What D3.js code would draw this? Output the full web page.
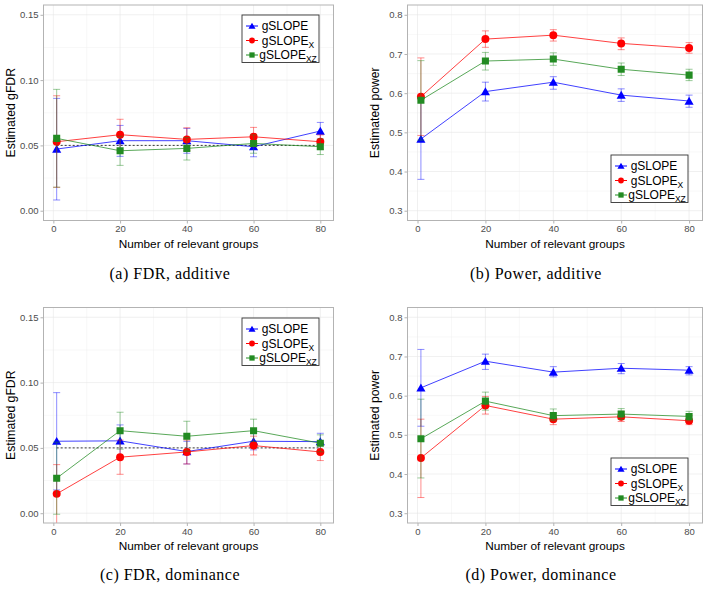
<!DOCTYPE html>
<html>
<head>
<meta charset="utf-8">
<script src="https://cdn.jsdelivr.net/npm/d3@7"></script>
<style>
  body { margin: 0; background: #fff; }
  svg { display: block; }
</style>
</head>
<body>
<div id="container"></div>
<script>
///data
const groups = [1, 20, 40, 60, 80];
const methods = ["gSLOPE", "gSLOPE_X", "gSLOPE_XZ"];
const colors = ["#0000ff", "#ff0000", "#228b22"];

// (a) FDR, additive : rows = gSLOPE, gSLOPE_X, gSLOPE_XZ
const fdrAddMean = [
  [0.0472, 0.0536, 0.0536, 0.0490, 0.0610],
  [0.0528, 0.0582, 0.0546, 0.0566, 0.0528],
  [0.0554, 0.0459, 0.0477, 0.0515, 0.0490]];
const fdrAddLo = [
  [0.0082, 0.0416, 0.0440, 0.0413, 0.0540],
  [0.0179, 0.0470, 0.0460, 0.0490, 0.0470],
  [0.0180, 0.0347, 0.0388, 0.0440, 0.0430]];
const fdrAddHi = [
  [0.0860, 0.0653, 0.0630, 0.0570, 0.0676],
  [0.0880, 0.0700, 0.0635, 0.0638, 0.0580],
  [0.0929, 0.0570, 0.0560, 0.0580, 0.0550]];

// (b) Power, additive
const powAddMean = [
  [0.483, 0.604, 0.628, 0.595, 0.580],
  [0.591, 0.738, 0.748, 0.727, 0.715],
  [0.582, 0.682, 0.687, 0.661, 0.646]];
const powAddLo = [
  [0.380, 0.580, 0.610, 0.579, 0.564],
  [0.492, 0.717, 0.733, 0.711, 0.702],
  [0.480, 0.659, 0.671, 0.645, 0.632]];
const powAddHi = [
  [0.586, 0.628, 0.642, 0.611, 0.595],
  [0.690, 0.759, 0.762, 0.741, 0.729],
  [0.683, 0.704, 0.703, 0.677, 0.661]];

// (c) FDR, dominance
const fdrDomMean = [
  [0.0551, 0.0554, 0.0472, 0.0551, 0.0548],
  [0.0148, 0.0429, 0.0469, 0.0518, 0.0469],
  [0.0268, 0.0632, 0.0589, 0.0632, 0.0536]];
const fdrDomLo = [
  [0.0178, 0.0430, 0.0377, 0.0485, 0.0480],
  [-0.0080, 0.0298, 0.0377, 0.0446, 0.0403],
  [-0.0008, 0.0490, 0.0475, 0.0550, 0.0470]];
const fdrDomHi = [
  [0.0923, 0.0676, 0.0550, 0.0620, 0.0612],
  [0.0372, 0.0560, 0.0560, 0.0590, 0.0535],
  [0.0544, 0.0773, 0.0704, 0.0720, 0.0600]];

// (d) Power, dominance
const powDomMean = [
  [0.620, 0.688, 0.660, 0.670, 0.665],
  [0.441, 0.575, 0.540, 0.546, 0.536],
  [0.490, 0.586, 0.549, 0.553, 0.547]];
const powDomLo = [
  [0.522, 0.667, 0.648, 0.656, 0.653],
  [0.340, 0.553, 0.526, 0.534, 0.526],
  [0.390, 0.563, 0.536, 0.539, 0.536]];
const powDomHi = [
  [0.718, 0.706, 0.674, 0.682, 0.674],
  [0.540, 0.598, 0.555, 0.560, 0.549],
  [0.591, 0.609, 0.566, 0.567, 0.560]];

const xTicks = [0, 20, 40, 60, 80];
const fdrTicks = [0, 0.05, 0.10, 0.15];
const powTicks = [0.3, 0.4, 0.5, 0.6, 0.7, 0.8];
const fdrTarget = 0.05;

///svg
let w = 708, h = 589;
let svg = d3.select("#container").append("svg")
  .attr("width", w).attr("height", h);
svg.append("rect").attr("width", w).attr("height", h).attr("fill", "#fff");

const sans = "'Liberation Sans', Arial, sans-serif";
const serif = "'Liberation Serif', 'Times New Roman', serif";

function symbolFor(i, big) {
  let types = [d3.symbolTriangle, d3.symbolCircle, d3.symbolSquare];
  let sizes = big ? [36, 50, 50] : [22, 26, 28];
  return d3.symbol().type(types[i]).size(sizes[i])();
}

function panel(p) {
  let g = svg.append("g");
  let x = d3.scaleLinear().domain([-2.95, 83.95]).range([p.left, p.right]);
  let y = d3.scaleLinear().domain(p.yDomain).range([p.bottom, p.top]);

  // grid
  let minorX = xTicks.slice(0, -1).map(d => d + 10);
  let minorY = p.yTicks.slice(0, -1).map((d, i) => (d + p.yTicks[i + 1]) / 2);
  g.selectAll(".gmx").data(minorX).enter().append("line")
    .attr("x1", d => x(d)).attr("x2", d => x(d))
    .attr("y1", p.top).attr("y2", p.bottom)
    .attr("stroke", "#f0f0f0").attr("stroke-width", 0.5);
  g.selectAll(".gmy").data(minorY).enter().append("line")
    .attr("y1", d => y(d)).attr("y2", d => y(d))
    .attr("x1", p.left).attr("x2", p.right)
    .attr("stroke", "#f0f0f0").attr("stroke-width", 0.5);
  g.selectAll(".gx").data(xTicks).enter().append("line")
    .attr("x1", d => x(d)).attr("x2", d => x(d))
    .attr("y1", p.top).attr("y2", p.bottom)
    .attr("stroke", "#e6e6e6").attr("stroke-width", 0.6);
  g.selectAll(".gy").data(p.yTicks).enter().append("line")
    .attr("y1", d => y(d)).attr("y2", d => y(d))
    .attr("x1", p.left).attr("x2", p.right)
    .attr("stroke", "#e6e6e6").attr("stroke-width", 0.6);

  // axes
  let xAxis = d3.axisBottom(x).tickValues(xTicks).tickSize(3).tickPadding(2);
  let xg = g.append("g").attr("transform", "translate(0," + p.bottom + ")").call(xAxis);
  let yAxis = d3.axisLeft(y).tickValues(p.yTicks).tickSize(3).tickPadding(2)
    .tickFormat(d3.format(p.yFormat));
  let yg = g.append("g").attr("transform", "translate(" + p.left + ",0)").call(yAxis);
  [xg, yg].forEach(a => {
    a.select(".domain").remove();
    a.selectAll("line").attr("stroke", "#b3b3b3");
    a.selectAll("text").attr("fill", "#4d4d4d")
      .style("font-family", sans).style("font-size", "9.5px");
  });

  g.append("text")
    .attr("x", (p.left + p.right) / 2).attr("y", p.bottom + 27)
    .attr("text-anchor", "middle")
    .style("font-family", sans).style("font-size", "11.8px")
    .text("Number of relevant groups");
  g.append("text")
    .attr("transform", "translate(" + (p.left - 29) + "," + ((p.top + p.bottom) / 2) + ") rotate(-90)")
    .attr("text-anchor", "middle")
    .style("font-family", sans).style("font-size", "12.2px")
    .text(p.ylab);

  // clip
  let cid = "clip" + p.id;
  g.append("clipPath").attr("id", cid).append("rect")
    .attr("x", p.left).attr("y", p.top)
    .attr("width", p.right - p.left).attr("height", p.bottom - p.top);
  let plot = g.append("g").attr("clip-path", "url(#" + cid + ")");

  if (p.ref) {
    plot.append("line")
      .attr("x1", x(groups[0])).attr("x2", x(groups[groups.length - 1]))
      .attr("y1", y(fdrTarget)).attr("y2", y(fdrTarget))
      .attr("stroke", "#222").attr("stroke-width", 0.9)
      .attr("stroke-dasharray", "2,2");
  }

  methods.forEach((m, i) => {
    let pts = groups.map((gx, j) => ({ g: gx, v: p.mean[i][j], lo: p.lo[i][j], hi: p.hi[i][j] }));
    let eb = plot.append("g").attr("stroke", colors[i]).attr("stroke-opacity", 0.45).attr("stroke-width", 1);
    pts.forEach(d => {
      eb.append("line").attr("x1", x(d.g)).attr("x2", x(d.g)).attr("y1", y(d.lo)).attr("y2", y(d.hi));
      eb.append("line").attr("x1", x(d.g) - 3.5).attr("x2", x(d.g) + 3.5).attr("y1", y(d.lo)).attr("y2", y(d.lo));
      eb.append("line").attr("x1", x(d.g) - 3.5).attr("x2", x(d.g) + 3.5).attr("y1", y(d.hi)).attr("y2", y(d.hi));
    });
    plot.append("path").datum(pts)
      .attr("fill", "none").attr("stroke", colors[i]).attr("stroke-opacity", 0.75).attr("stroke-width", 1)
      .attr("d", d3.line().x(d => x(d.g)).y(d => y(d.v)));
    plot.selectAll(".pt" + i).data(pts).enter().append("path")
      .attr("transform", d => "translate(" + x(d.g) + "," + (y(d.v) + (i === 0 ? 1 : 0)) + ")")
      .attr("d", symbolFor(i, true)).attr("fill", colors[i]);
  });

  // panel border
  g.append("rect").attr("x", p.left).attr("y", p.top)
    .attr("width", p.right - p.left).attr("height", p.bottom - p.top)
    .attr("fill", "none").attr("stroke", "#b3b3b3").attr("stroke-width", 1);

  // legend
  let lg = g.append("g").attr("transform", "translate(" + p.legX + "," + p.legY + ")");
  lg.append("rect").attr("width", 77).attr("height", 47.5)
    .attr("fill", "#fff").attr("stroke", "#333").attr("stroke-width", 0.9);
  let rowsY = [11, 25.5, 40];
  let subs = ["", "X", "XZ"];
  methods.forEach((m, i) => {
    let r = lg.append("g").attr("transform", "translate(0," + rowsY[i] + ")");
    r.append("line").attr("x1", 4).attr("x2", 16).attr("y1", 0).attr("y2", 0)
      .attr("stroke", colors[i]).attr("stroke-width", 1);
    r.append("path").attr("transform", "translate(10," + (i === 0 ? 0.8 : 0) + ")")
      .attr("d", symbolFor(i, false)).attr("fill", colors[i]);
    let t = r.append("text").attr("x", 46 + (i === 0 ? -3 : 0)).attr("y", 4.3)
      .attr("text-anchor", "middle")
      .style("font-family", sans).style("font-size", "12px");
    t.append("tspan").text("gSLOPE");
    if (subs[i]) t.append("tspan").attr("dy", 3).style("font-size", "8.5px").text(subs[i]);
  });

  svg.append("text").attr("x", p.capX).attr("y", p.capY)
    .attr("text-anchor", "middle")
    .style("font-family", serif).style("font-size", "16px").style("letter-spacing", "0.5px")
    .text(p.caption);
}

panel({ id: "a", left: 43.5, right: 333.5, top: 5, bottom: 220.5,
  yDomain: [-0.0075, 0.1575], yTicks: fdrTicks, yFormat: ".2f", ylab: "Estimated gFDR",
  mean: fdrAddMean, lo: fdrAddLo, hi: fdrAddHi, ref: true,
  legX: 242, legY: 15, caption: "(a) FDR, additive", capX: 170, capY: 279 });
panel({ id: "b", left: 407.5, right: 702.5, top: 5, bottom: 220.5,
  yDomain: [0.275, 0.825], yTicks: powTicks, yFormat: ".1f", ylab: "Estimated power",
  mean: powAddMean, lo: powAddLo, hi: powAddHi, ref: false,
  legX: 611, legY: 155, caption: "(b) Power, additive", capX: 536, capY: 279 });
panel({ id: "c", left: 43.5, right: 333.5, top: 307.5, bottom: 523,
  yDomain: [-0.0075, 0.1575], yTicks: fdrTicks, yFormat: ".2f", ylab: "Estimated gFDR",
  mean: fdrDomMean, lo: fdrDomLo, hi: fdrDomHi, ref: true,
  legX: 242, legY: 318, caption: "(c) FDR, dominance", capX: 170, capY: 580 });
panel({ id: "d", left: 407.5, right: 702.5, top: 307.5, bottom: 523,
  yDomain: [0.275, 0.825], yTicks: powTicks, yFormat: ".1f", ylab: "Estimated power",
  mean: powDomMean, lo: powDomLo, hi: powDomHi, ref: false,
  legX: 611, legY: 458, caption: "(d) Power, dominance", capX: 541, capY: 580 });
</script>
</body>
</html>
